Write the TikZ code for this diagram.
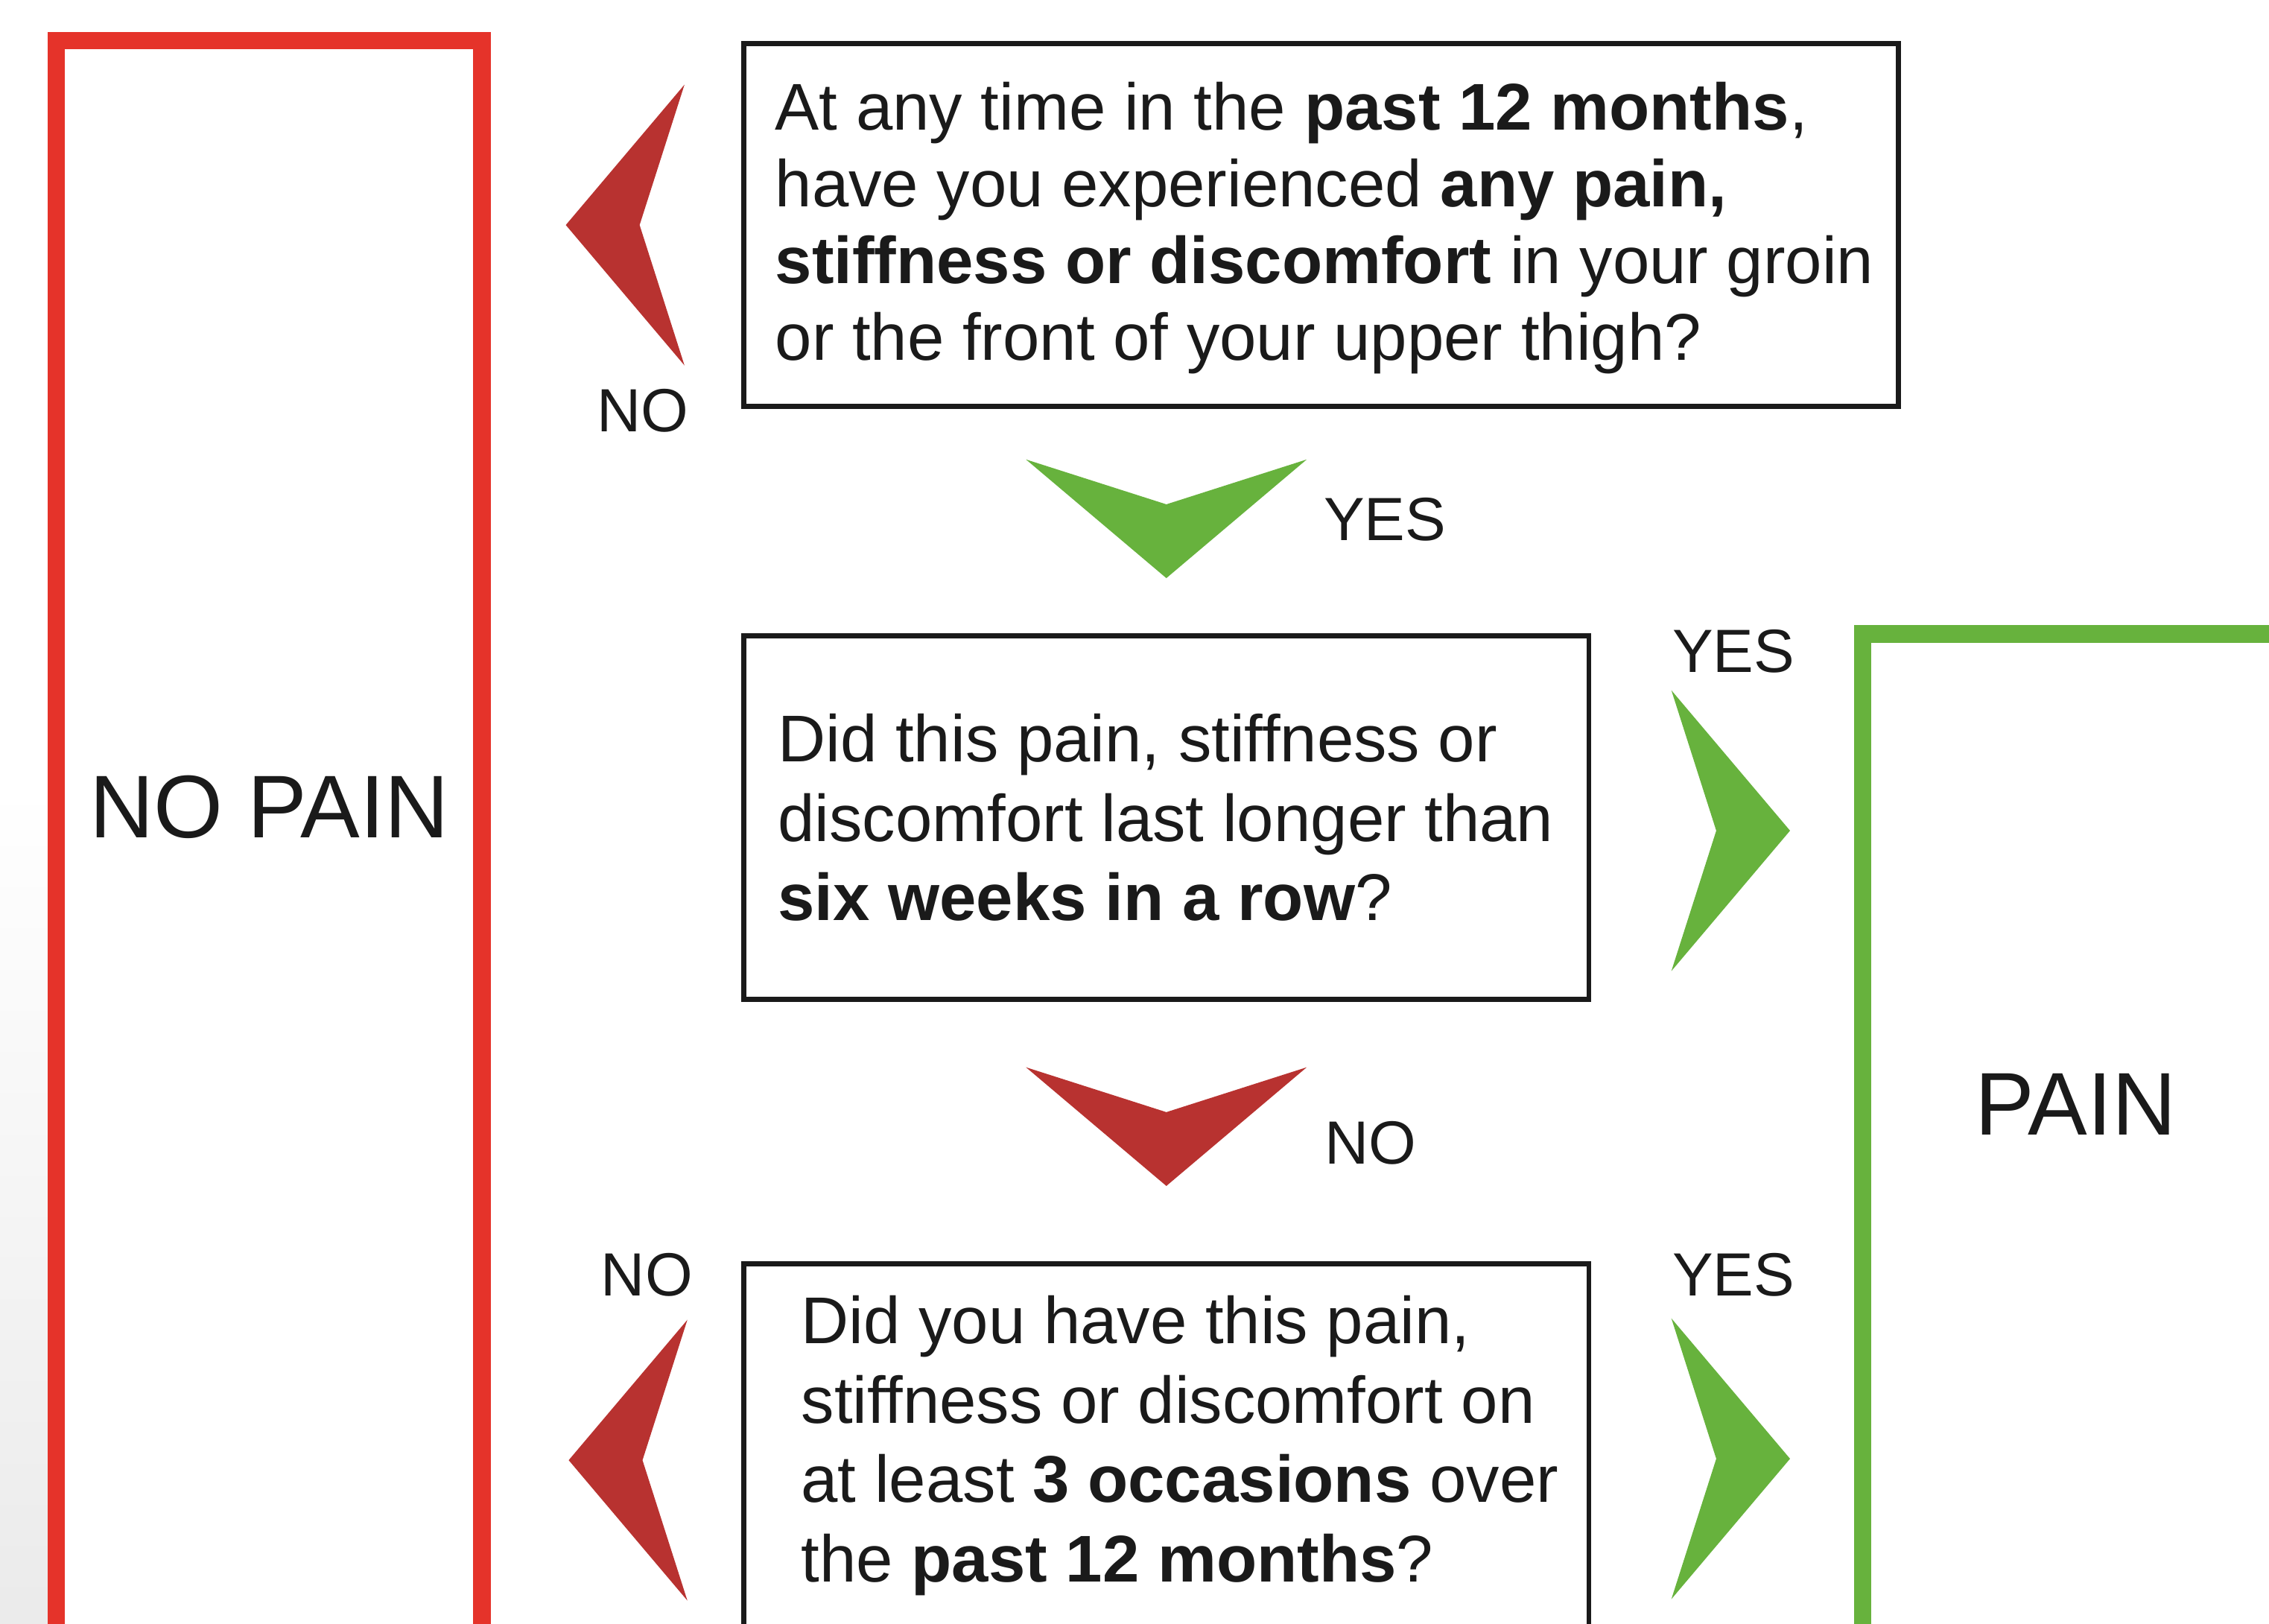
\documentclass[tikz,border=0pt]{standalone}
\usepackage{fontspec}
\setmainfont{Liberation Sans}
\usepackage{xcolor}
\usetikzlibrary{positioning,calc}
\definecolor{vermelho}{RGB}{229,51,42}
\definecolor{vermelhoSeta}{RGB}{184,50,48}
\definecolor{verde}{RGB}{103,178,61}
\definecolor{texto}{RGB}{26,26,26}
\tikzset{
    pergunta/.style={
        rectangle,
        draw=texto,
        line width=1pt,
        minimum height=2.51cm,
        inner sep=0pt,
        outer sep=0pt,
        anchor=west
    },
    textoPergunta/.style={
        align=left,
        inner sep=0pt,
        anchor=west,
        font=\fontsize{13}{15.6}\selectfont
    },
    resultado/.style={
        rectangle,
        line width=0.12cm,
        inner sep=0pt,
        outer sep=0pt,
        anchor=north west
    },
    textoResultado/.style={font=\fontsize{17.5}{21}\selectfont, inner sep=0pt},
    rotulo/.style={font=\fontsize{12}{14}\selectfont, inner sep=0pt},
    pics/seta/.style={
        code={\fill[#1] (0,0) -- (-0.82,0.97) -- (-0.51,0) -- (-0.82,-0.97) -- cycle;}
    }
}

\begin{document}
\begin{tikzpicture}[every node/.style={text=texto}]
    \useasboundingbox (0,0) rectangle (15.68,11.22);
    \clip (0,0) rectangle (15.68,11.22);
    % fundo
    \shade[top color=white, bottom color=black!8] (0,0) rectangle (0.33,5.8);

    % resultados
    \node[resultado, draw=vermelho, minimum width=2.94cm, minimum height=11.6cm] (semdor) at (0.39,10.94) {};
    \node[textoResultado] (semdorTxt) at (1.86,5.645) {NO PAIN};
    \node[resultado, draw=verde, minimum width=2.95cm, minimum height=7.5cm] (dor) at (12.87,6.84) {};
    \node[textoResultado] (dorTxt) at (14.345,3.59) {PAIN};

    % perguntas
    \node[pergunta, minimum width=7.98cm] (q1) at (5.14,9.665) {};
    \node[textoPergunta, font=\fontsize{13}{15.1}\selectfont] (q1txt) at ([xshift=0.21cm, yshift=-0.02cm]q1.west)
        {At any time in the \textbf{past 12 months},\\
         have you experienced \textbf{any pain,}\\
         \textbf{stiffness or discomfort} in your groin\\
         or the front of your upper thigh?};
    \node[pergunta, minimum width=5.84cm] (q2) at (5.14,5.57) {};
    \node[textoPergunta] (q2txt) at ([xshift=0.23cm]q2.west)
        {Did this pain, stiffness or\\
         discomfort last longer than\\
         \textbf{six weeks in a row}?};
    \node[pergunta, minimum width=5.84cm] (q3) at (5.14,1.23) {};
    \node[textoPergunta] (q3txt) at ([xshift=0.39cm]q3.west)
        {Did you have this pain,\\
         stiffness or discomfort on\\
         at least \textbf{3 occasions} over\\
         the \textbf{past 12 months}?};

    % setas
    \pic[rotate=180] at ([xshift=-1.23cm]q1.west) {seta=vermelhoSeta};
    \pic[rotate=-90] at ([yshift=0.40cm]q2.north) {seta=verde};
    \pic at ([xshift=1.39cm, yshift=-0.09cm]q2.east) {seta=verde};
    \pic[rotate=-90] at ([yshift=0.54cm]q3.north) {seta=vermelhoSeta};
    \pic[rotate=180] at ([xshift=-1.21cm, yshift=-0.10cm]q3.west) {seta=vermelhoSeta};
    \pic at ([xshift=1.39cm, yshift=-0.09cm]q3.east) {seta=verde};

    % rotulos
    \node[rotulo] (nao1) at (4.44,8.38) {NO};
    \node[rotulo] (sim1) at (9.57,7.63) {YES};
    \node[rotulo] (sim2) at (11.98,6.72) {YES};
    \node[rotulo] (nao2) at (9.47,3.32) {NO};
    \node[rotulo] (nao3) at (4.47,2.41) {NO};
    \node[rotulo] (sim3) at (11.98,2.41) {YES};
\end{tikzpicture}
\end{document}
